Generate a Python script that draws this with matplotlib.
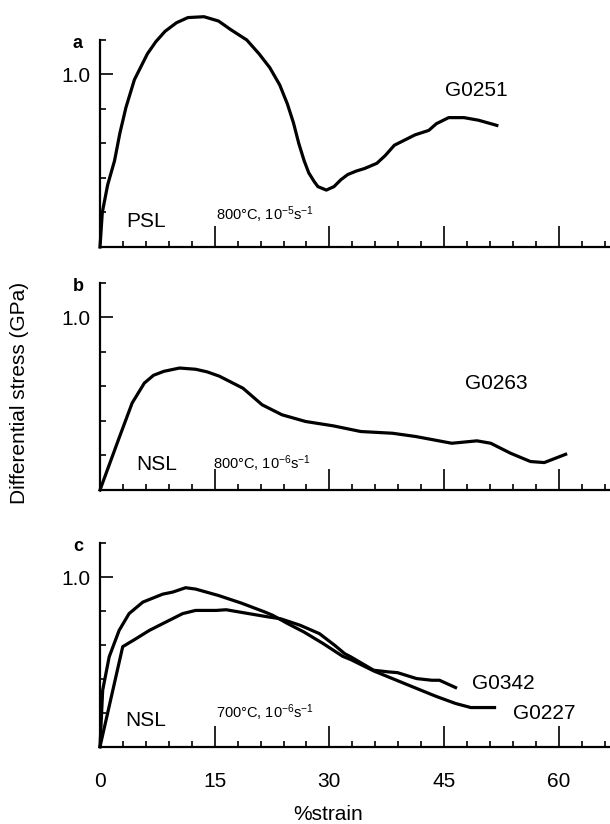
import matplotlib.pyplot as plt

plt.rcParams['font.family'] = ['Liberation Sans', 'DejaVu Sans']
plt.rcParams['mathtext.fontset'] = 'custom'
plt.rcParams['mathtext.rm'] = 'Liberation Sans'
plt.rcParams['mathtext.it'] = 'Liberation Sans:italic'

# --- data (%strain, GPa) ---
strain_g0251 = [0, 0.3, 1.0, 1.9, 2.6, 3.4, 4.5, 6.2, 7.3, 8.5, 10.0, 11.5, 13.6, 15.5,
                17.1, 19.2, 20.8, 22.2, 23.5, 24.5, 25.3, 26.0, 26.7, 27.3, 28.0,
                28.5, 29.6, 30.6, 31.5, 32.4, 33.5, 34.6, 36.2, 37.3, 38.5, 41.2,
                43.0, 44.0, 45.6, 47.6, 49.5, 51.9]
stress_g0251 = [0, 0.2, 0.36, 0.50, 0.66, 0.81, 0.97, 1.12, 1.19, 1.25, 1.30, 1.33,
                1.335, 1.31, 1.26, 1.20, 1.12, 1.04, 0.94, 0.83, 0.72, 0.60, 0.50,
                0.43, 0.38, 0.35, 0.33, 0.35, 0.39, 0.42, 0.44, 0.455, 0.485, 0.53,
                0.59, 0.65, 0.676, 0.715, 0.75, 0.75, 0.735, 0.705]

strain_g0263 = [0, 2.4, 4.2, 5.8, 7.0, 8.35, 10.4, 12.5, 14.0, 15.6, 18.7, 21.2,
                23.8, 26.9, 30.5, 34.1, 38.25, 41.3, 46.0, 49.3, 51.1, 53.7, 56.3,
                58.1, 60.9]
stress_g0263 = [0, 0.29, 0.504, 0.62, 0.665, 0.688, 0.707, 0.70, 0.685, 0.66, 0.59,
                0.494, 0.436, 0.397, 0.372, 0.339, 0.329, 0.31, 0.271, 0.285, 0.271,
                0.213, 0.165, 0.159, 0.207]

strain_g0227 = [0, 0.35, 1.2, 2.5, 3.8, 5.6, 8.2, 9.5, 11.2, 12.5, 15.5, 18.5, 21.6,
                22.6, 24.6, 26.7, 29.2, 31.75, 32.8, 35.8, 37.8, 40.9, 43.9, 46.5,
                48.5, 51.6]
stress_g0227 = [0, 0.333, 0.53, 0.686, 0.785, 0.853, 0.90, 0.912, 0.938, 0.93, 0.892,
                0.847, 0.794, 0.775, 0.725, 0.676, 0.608, 0.533, 0.514, 0.447, 0.41,
                0.353, 0.298, 0.255, 0.231, 0.231]

strain_g0342 = [0, 2.97, 4.7, 6.45, 8.2, 10.8, 12.5, 15.2, 16.5, 19.6, 22.1, 23.6,
                26.2, 28.7, 30.7, 32.0, 32.8, 35.8, 37.8, 38.9, 41.4, 43.4, 44.4, 46.5]
stress_g0342 = [0, 0.59, 0.637, 0.686, 0.726, 0.785, 0.804, 0.804, 0.808, 0.784, 0.765,
                0.755, 0.716, 0.667, 0.598, 0.549, 0.53, 0.451, 0.441, 0.437, 0.402,
                0.392, 0.392, 0.349]

panel_letters = ['a', 'b', 'c']
sample_labels = ['PSL', 'NSL', 'NSL']
conditions = [r'800°C, 10$^{-5}$s$^{-1}$', r'800°C, 10$^{-6}$s$^{-1}$',
              r'700°C, 10$^{-6}$s$^{-1}$']
major_x = [0, 15, 30, 45, 60]
minor_x = [v for v in range(3, 67, 3) if v % 15 != 0]

W, H = 610, 824
fig = plt.figure(figsize=(W / 100, H / 100), dpi=100)

# (x-axis pixel row, top of y spine pixel row) for each panel
rows = [(247, 40), (490, 283), (746.7, 543.3)]
left_px = 100

axes = []
for i, (base, top) in enumerate(rows):
    ax = fig.add_axes([left_px / W, 1 - base / H, (W - left_px) / W, (base - top) / H])
    ax.set_xlim(0, 66.7)
    ax.set_ylim(0, 1.2)
    for s in ['top', 'right']:
        ax.spines[s].set_visible(False)
    for s in ['left', 'bottom']:
        ax.spines[s].set_linewidth(1.6)
    ax.set_xticks(major_x)
    ax.xaxis.set_minor_locator(plt.FixedLocator(minor_x))
    ax.set_yticks([1.0])
    ax.set_yticklabels(['1.0'])
    ax.yaxis.set_minor_locator(plt.FixedLocator([0.2, 0.4, 0.6, 0.8, 1.2]))
    ax.tick_params(axis='x', which='major', direction='in', length=15, width=1.2)
    ax.tick_params(axis='x', which='minor', direction='in', length=4.5, width=1.2)
    ax.tick_params(axis='y', which='major', direction='in', length=9, width=1.2,
                   labelsize=15, pad=7)
    ax.tick_params(axis='y', which='minor', direction='in', length=4, width=1.2)
    if i < 2:
        ax.set_xticklabels([])
    else:
        ax.tick_params(axis='x', which='major', labelsize=15, pad=18)
    ax.text(-2.9, 1.18, panel_letters[i], fontsize=13, fontweight='bold',
            ha='center', va='center', clip_on=False)
    axes.append(ax)

lw = 2.3
ax = axes[0]
ax.plot(strain_g0251, stress_g0251, color='black', lw=lw, clip_on=False,
        solid_joinstyle='round')
ax.text(45.1, 0.91, 'G0251', fontsize=15, va='center')
ax.text(3.4, 0.15, sample_labels[0], fontsize=15, va='center')
ax.text(15.2, 0.19, conditions[0], fontsize=10.5, va='center')

ax = axes[1]
ax.plot(strain_g0263, stress_g0263, color='black', lw=lw, clip_on=False,
        solid_joinstyle='round')
ax.text(47.8, 0.62, 'G0263', fontsize=15, va='center')
ax.text(4.7, 0.15, sample_labels[1], fontsize=15, va='center')
ax.text(14.8, 0.15, conditions[1], fontsize=10.5, va='center')

ax = axes[2]
ax.plot(strain_g0227, stress_g0227, color='black', lw=lw, clip_on=False,
        solid_joinstyle='round')
ax.plot(strain_g0342, stress_g0342, color='black', lw=lw, clip_on=False,
        solid_joinstyle='round')
ax.text(48.6, 0.373, 'G0342', fontsize=15, va='center')
ax.text(54.0, 0.196, 'G0227', fontsize=15, va='center')
ax.text(3.3, 0.157, sample_labels[2], fontsize=15, va='center')
ax.text(15.2, 0.2, conditions[2], fontsize=10.5, va='center')

fig.text(20 / W, 1 - 393 / H, 'Differential stress (GPa)', rotation=90,
         fontsize=15, ha='center', va='center')
fig.text(328 / W, 1 - 815 / H, '%strain', fontsize=15, ha='center', va='center')

fig.savefig('out.png', dpi=100)
